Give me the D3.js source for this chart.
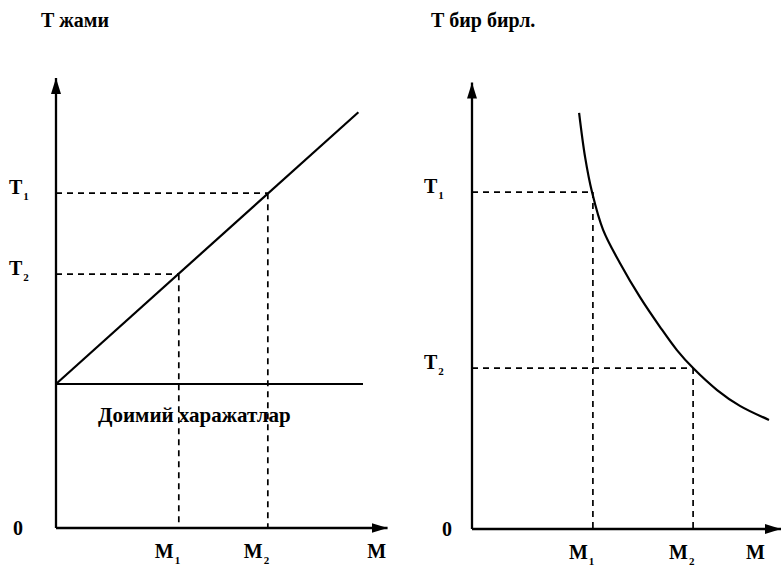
<!DOCTYPE html>
<html>
<head>
<meta charset="utf-8">
<script src="https://cdn.jsdelivr.net/npm/d3@7"></script>
<style>
  html, body { margin: 0; padding: 0; background: #fff; }
  svg text { font-family: "Liberation Serif", "Times New Roman", serif; font-weight: bold; fill: #000; }
</style>
</head>
<body>
<svg id="chart" width="782" height="567"></svg>
<script>
// ---------- data ----------
const leftTitle = "Т жами";
const rightTitle = "Т бир бирл.";
const fixedCostLabel = "Доимий харажатлар";
const xAxisLabel = "M";
const originLabel = "0";

// Left panel: total cost = fixed + variable
const fixedCost = [[0, 4], [10, 4]];
const totalCost = [[0, 4], [9.85, 11.55]];
const leftM = [4.0, 6.9];            // M1, M2
const leftT = [7.05, 9.3];           // T at M1 (=T2), T at M2 (=T1)
const leftMLabels = ["1", "2"];
const leftTLabels = ["2", "1"];

// Right panel: unit cost curve
const unitCost = [
  [3.57, 11.56], [3.77, 10.33], [4.0, 9.36], [4.37, 8.31], [4.93, 7.39],
  [5.6, 6.44], [6.27, 5.61], [6.83, 4.97], [7.37, 4.47], [8.17, 3.86],
  [8.93, 3.42], [9.9, 3.03]
];
const rightM = [4.03, 7.37];
const rightT = [9.36, 4.47];
const rightMLabels = ["1", "2"];
const rightTLabels = ["1", "2"];

// ---------- drawing ----------
const svg = d3.select("#chart");

const defs = svg.append("defs");
defs.append("marker")
  .attr("id", "arrow")
  .attr("viewBox", "0 0 16 10")
  .attr("refX", 16).attr("refY", 5)
  .attr("markerWidth", 16).attr("markerHeight", 10)
  .attr("markerUnits", "userSpaceOnUse")
  .attr("orient", "auto")
  .append("path")
  .attr("d", "M0,0 L16,5 L0,10 Z")
  .attr("fill", "#000");

function subLabel(g, x, y, main, sub, anchor) {
  const t = g.append("text")
    .attr("x", x).attr("y", y)
    .attr("text-anchor", anchor || "start")
    .style("font-size", "20px");
  t.append("tspan").text(main);
  t.append("tspan").attr("dy", 6).attr("dx", 1).style("font-size", "11px").text(sub);
  return t;
}

function panel(opts) {
  const g = svg.append("g");
  const x = opts.x, y = opts.y;
  const line = d3.line().x(d => x(d[0])).y(d => y(d[1]));

  // dashed guides
  opts.M.forEach((m, i) => {
    const t = opts.Tfor[i];
    g.append("path")
      .attr("d", line([[0, t], [m, t]]))
      .attr("fill", "none").attr("stroke", "#000")
      .attr("stroke-width", 1.7).attr("stroke-dasharray", "6,5");
    g.append("path")
      .attr("d", line([[m, t], [m, 0]]))
      .attr("fill", "none").attr("stroke", "#000")
      .attr("stroke-width", 1.7).attr("stroke-dasharray", "6,5");
  });

  // axes
  g.append("path")
    .attr("d", line([[0, 0], [0, opts.yMax]]))
    .attr("stroke", "#000").attr("stroke-width", 2.3).attr("fill", "none")
    .attr("marker-end", "url(#arrow)");
  g.append("path")
    .attr("d", line([[0, 0], [opts.xMax, 0]]))
    .attr("stroke", "#000").attr("stroke-width", 2.3).attr("fill", "none")
    .attr("marker-end", "url(#arrow)");

  // labels
  g.append("text").attr("x", opts.titleX).attr("y", 27)
    .style("font-size", "20px").text(opts.title);
  g.append("text").attr("x", opts.zeroX).attr("y", y(0) + 7)
    .attr("text-anchor", "middle").style("font-size", "20px").text(originLabel);
  g.append("text").attr("x", x(opts.mLabelAt)).attr("y", y(0) + 30)
    .attr("text-anchor", "middle").style("font-size", "20px").text(xAxisLabel);

  opts.M.forEach((m, i) => {
    subLabel(g, x(m) - 24, y(0) + 30, "M", opts.mLabels[i]);
  });
  opts.Tfor.forEach((t, i) => {
    subLabel(g, opts.tLabelX, y(t) + 1, "T", opts.tLabels[i]);
  });
  return { g, line };
}

// Left panel
const xL = d3.scaleLinear().domain([0, 10]).range([56, 363]);
const yL = d3.scaleLinear().domain([0, 12.5]).range([528, 78]);
const pL = panel({
  x: xL, y: yL, xMax: 10.8, yMax: 12.5,
  M: leftM, Tfor: leftT, mLabels: leftMLabels, tLabels: leftTLabels,
  title: leftTitle, titleX: 41, zeroX: 18, tLabelX: 9, mLabelAt: 10.45
});
pL.g.append("path").attr("d", pL.line(fixedCost))
  .attr("stroke", "#000").attr("stroke-width", 2.2).attr("fill", "none");
pL.g.append("path").attr("d", pL.line(totalCost))
  .attr("stroke", "#000").attr("stroke-width", 2.2).attr("fill", "none");
pL.g.append("text").attr("x", xL(1.37)).attr("y", yL(4) + 38)
  .style("font-size", "21px").text(fixedCostLabel);

// Right panel
const xR = d3.scaleLinear().domain([0, 10]).range([472, 772]);
const yR = d3.scaleLinear().domain([0, 12.5]).range([529, 79]);
const pR = panel({
  x: xR, y: yR, xMax: 10.3, yMax: 12.4,
  M: rightM, Tfor: rightT, mLabels: rightMLabels, tLabels: rightTLabels,
  title: rightTitle, titleX: 431, zeroX: 447, tLabelX: 424, mLabelAt: 9.45
});
pR.g.append("path")
  .attr("d", d3.line().x(d => xR(d[0])).y(d => yR(d[1])).curve(d3.curveCatmullRom.alpha(0.5))(unitCost))
  .attr("stroke", "#000").attr("stroke-width", 2.2).attr("fill", "none");
</script>
</body>
</html>
